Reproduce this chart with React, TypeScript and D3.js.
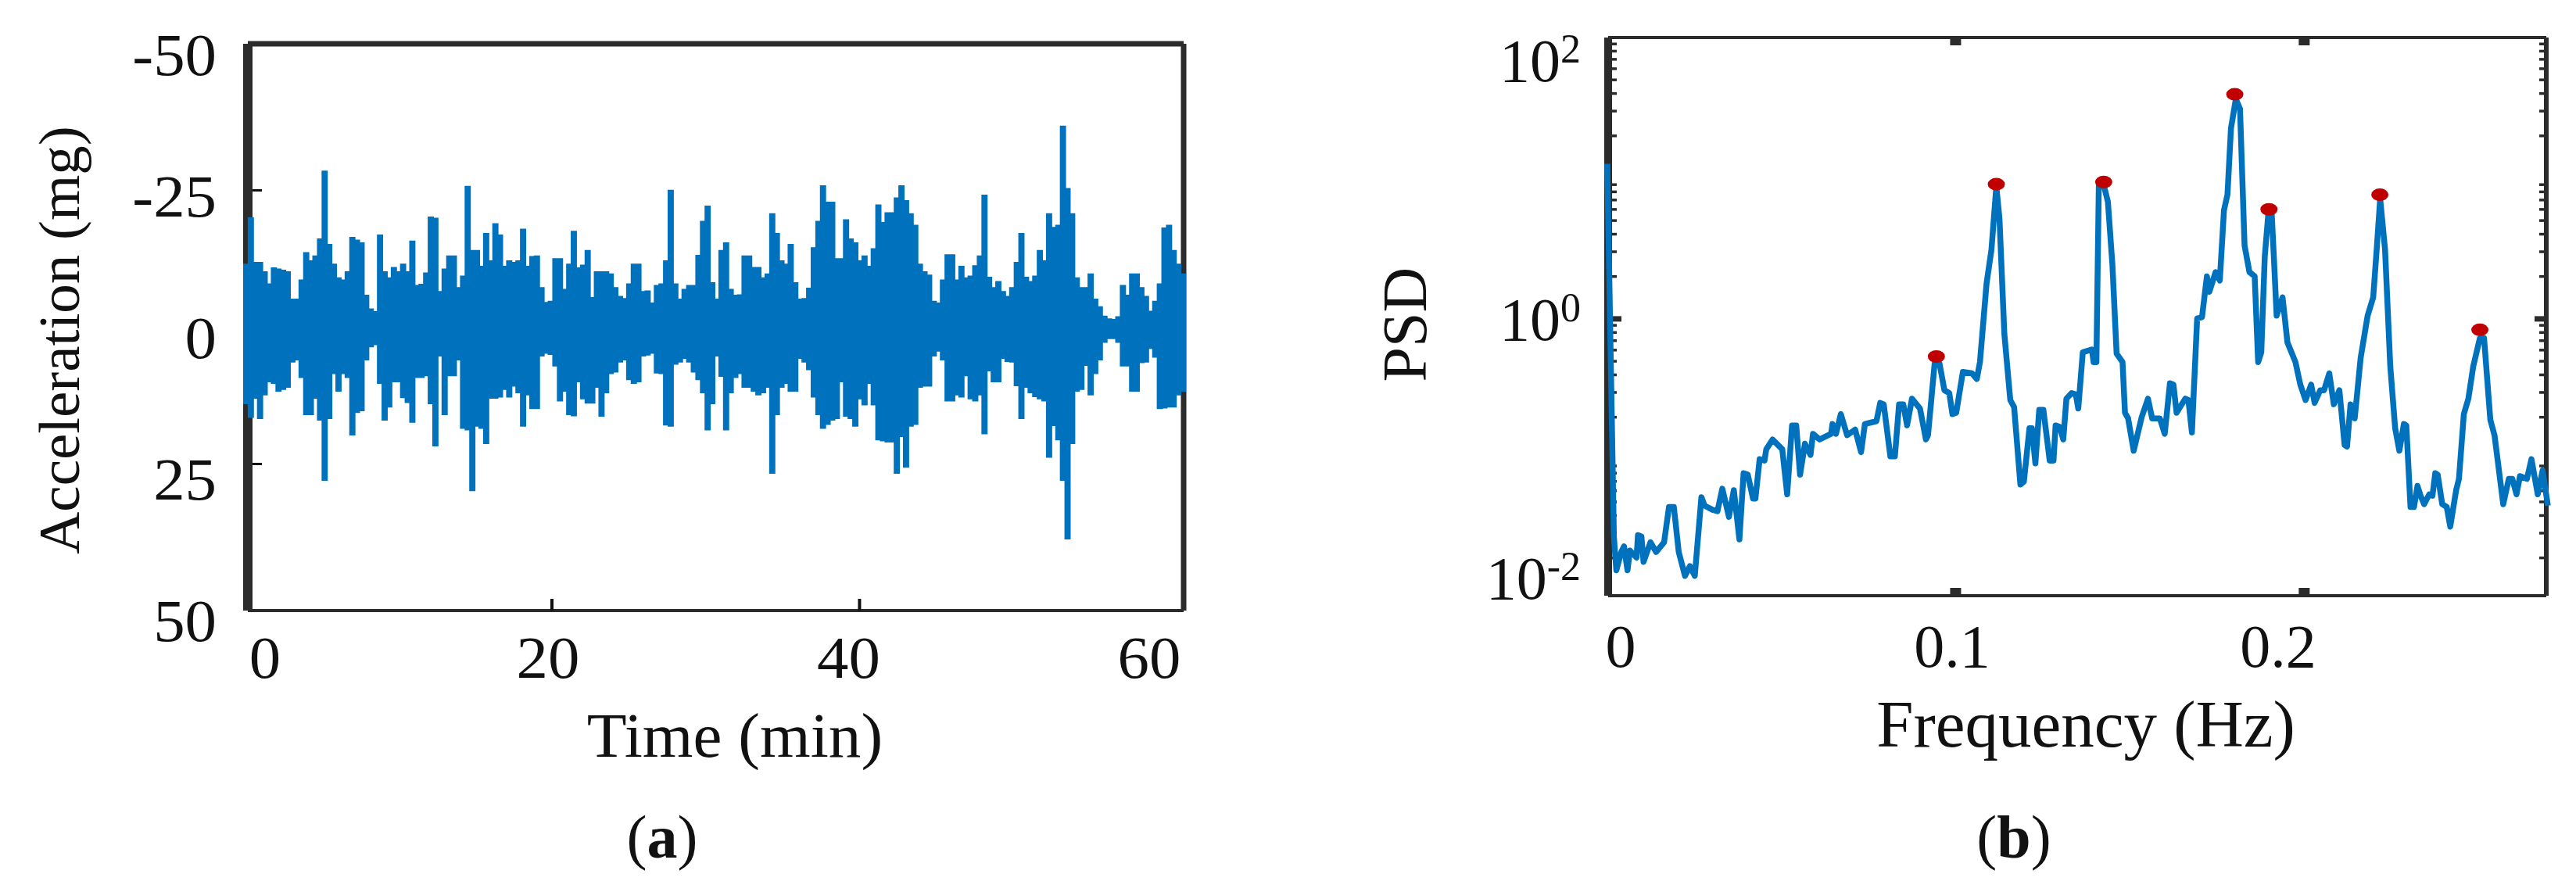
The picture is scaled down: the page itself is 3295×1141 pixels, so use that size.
import * as d3 from "d3";
import { useEffect, useRef } from "react";

// panel (a): envelope of the acceleration trace, one value per 0.3 min bin
const binMinutes = 0.3;
const accelUpper = [
  -11.4, -19.9, -11.7, -11.7, -10, -7.8, -10.7, -10.5, -10.3, -10, -5, -5, -8.5, -13.5, -12, -12.9, -16, -28.4, -15, -11.4,
  -8.9, -8.5, -10, -16.3, -15.8, -15.3, -5.7, -3.2, -2.7, -16.7, -10, -8.9, -10.8, -10, -11.4, -10, -15.6, -7.5, -7.7, -9.8,
  -20, -19.8, -6.4, -10.5, -12.9, -12.9, -7.1, -9.2, -25.6, -13.9, -13.9, -11, -17, -12, -18.8, -16.7, -11, -12, -11.7, -12,
  -17.8, -11, -12.8, -12.9, -7.1, -4.4, -4.6, -12.4, -12.4, -6.8, -11.4, -17.4, -10.7, -11.2, -13.9, -5.3, -10, -10, -10, -9.6,
  -7.1, -5.5, -5.1, -7.8, -11.4, -11.4, -6.4, -6.5, -4.3, -7.5, -7.8, -12, -24.9, -7.8, -5, -6.8,
  -7.5, -7.5, -13, -19.2, -22, -8, -5, -13.9, -15.3, -6.8, -5.7, -5.8, -12.9, -12.9, -10.8, -10.8, -8.9, -9.6, -20.6, -17,
  -12, -11.4, -15, -8, -5, -5.1, -7, -14.4, -19.2, -25.7, -22.7, -22.7, -12.4, -12.4, -19.5, -16, -15.3, -12, -12.9, -11,
  -14.2, -22.2, -19, -20.8, -20.8, -23.5, -25.7, -23, -20.6, -18.5, -11.4, -10, -9.4, -4.6, -4.3, -8.5, -13.1, -13.1, -8.5, -11,
  -8.9, -9.2, -11.1, -12.9, -24, -9, -7.1, -8.2, -6.4, -5.5, -7.1, -11.7, -17, -9, -8.2, -9.2, -13.9, -12, -20.6, -18.1,
  -18.5, -36.6, -25.2, -20.6, -8.9, -7.1, -7.1, -9.6, -5, -3.6, -1.9, -1.4, -1.3, -1.8, -7.5, -5.7, -9.6, -9.6, -7.1, -5.5,
  -2.8, -4.6, -7.8, -18, -18.5, -13.9, -11.4, -9.6, -9.6,
];
const accelLower = [
  14, 16.5, 13, 16.7, 12.4, 10, 10.3, 11.7, 11.4, 11, 6.4, 6, 9.2, 16, 16, 13, 17, 28, 16.7, 8.5,
  11.7, 8.5, 9.2, 19.7, 15.6, 15.3, 6, 3.6, 3.2, 10.3, 17, 14.6, 10, 10, 12.9, 13.8, 17.4, 9.2, 9.2, 8.9,
  14, 21.7, 5.3, 16, 8.9, 8.9, 6, 18.5, 18.8, 29.9, 18.1, 18.5, 21.3, 13, 13, 12.8, 11.4, 12.8, 10.8, 12,
  18.1, 12.4, 14.9, 14.9, 5.3, 4.8, 5, 7.1, 13.5, 11.7, 16, 16.2, 10, 13.1, 13.9, 13.9, 11, 16.3, 12, 8.5,
  8.2, 6.4, 6, 9.6, 10.3, 10, 5.3, 5.1, 4.8, 8.4, 8.5, 17.9, 18.1, 6.8, 6.4, 5.7,
  6.4, 8.2, 9.6, 12, 18.8, 14, 5.3, 9, 18.8, 12, 9.2, 8.5, 11, 11, 11.7, 12.4, 12, 11, 26.7, 16,
  11, 10.3, 11.7, 11.7, 5.7, 6.4, 7.8, 12.8, 16, 18.5, 17.8, 17, 16.7, 10, 16.3, 16.7, 18.1, 13.1, 14.2, 10.3,
  14.2, 20.6, 20.8, 21, 21, 26.7, 20, 25.6, 18.1, 17.8, 11, 10.8, 10.8, 5.3, 4.4, 6, 13.5, 13.5, 12.4, 12.8,
  8.9, 13.1, 13.5, 12.4, 19.5, 8, 10, 10, 5.7, 6.3, 6.4, 10.7, 16.7, 11, 12, 12.7, 13.1, 13.5, 23.8, 18,
  20.6, 28, 38.7, 21.3, 11.7, 11.4, 7, 12.4, 8.5, 6, 2.8, 2.1, 2.1, 2.8, 7.1, 7.1, 11.7, 11.7, 6.5, 6.4,
  3.9, 5.5, 14.9, 14.8, 14.6, 14.6, 12.4, 11.7, 11.7,
];

const timeTicks = [20, 40];
const timeLabels = [0, 20, 40, 60];
const accelTicks = [-25, 25];
const accelLabels = [-50, -25, 0, 25, 50];

// panel (b): PSD spectrum, read as log10(PSD) against frequency
const freqHz = [
  0.0002, 0.0021, 0.0028, 0.0042, 0.005, 0.006, 0.0067, 0.0086, 0.009, 0.01, 0.0106, 0.0126, 0.0142, 0.0165, 0.0179, 0.0193, 0.0207, 0.0225, 0.0239, 0.0253,
  0.0272, 0.0281, 0.0304, 0.0318, 0.0332, 0.0351, 0.0365, 0.0381, 0.0393, 0.0405, 0.042, 0.0427, 0.0439, 0.0453, 0.0458, 0.0476, 0.0504, 0.0518, 0.0532, 0.0544,
  0.0555, 0.0569, 0.0585, 0.0592, 0.0611, 0.0644, 0.0648, 0.0658, 0.0672, 0.069, 0.0713, 0.073, 0.0741, 0.0774, 0.0785, 0.0795, 0.0814, 0.0827, 0.0839, 0.0851,
  0.0862, 0.0876, 0.0899, 0.0916, 0.0922, 0.0941, 0.0955, 0.0969, 0.0983, 0.0992, 0.1003, 0.1022, 0.1048, 0.1062, 0.1071, 0.109, 0.1104, 0.1118, 0.1127, 0.1141,
  0.1158, 0.1169, 0.1187, 0.1197, 0.1213, 0.122, 0.123, 0.1241, 0.1253, 0.1271, 0.1282, 0.1288, 0.13, 0.131, 0.1319, 0.1334, 0.1346, 0.1353, 0.1366, 0.1392,
  0.1397, 0.1405, 0.1412, 0.1426, 0.1438, 0.1451, 0.1463, 0.148, 0.1487, 0.1496, 0.1512, 0.1535, 0.1553, 0.1565, 0.1587, 0.1601, 0.1616, 0.1626, 0.1635, 0.166,
  0.1669, 0.1679, 0.1694, 0.1708, 0.1722, 0.1729, 0.1747, 0.1759, 0.1771, 0.1781, 0.1791, 0.1805, 0.1817, 0.183, 0.1844, 0.1859, 0.1869, 0.1878, 0.1888, 0.1898,
  0.1908, 0.1914, 0.1922, 0.1939, 0.1953, 0.1976, 0.199, 0.2005, 0.2021, 0.2031, 0.2047, 0.2058, 0.2073, 0.2086, 0.2102, 0.2117, 0.2124, 0.2134, 0.2146, 0.2163,
  0.2183, 0.2199, 0.2209, 0.2219, 0.2233, 0.2248, 0.2262, 0.2274, 0.2287, 0.2294, 0.2306, 0.2316, 0.2326, 0.2335, 0.2345, 0.236, 0.2369, 0.2377, 0.2384, 0.2397,
  0.241, 0.242, 0.2437, 0.2445, 0.2459, 0.2472, 0.2486, 0.2505, 0.2517, 0.2535, 0.2547, 0.2572, 0.2588, 0.2598, 0.261, 0.262, 0.264, 0.2653, 0.2671, 0.2685,
  0.27,
];
const psdLog10 = [
  1.1, -1.55, -1.79, -1.66, -1.62, -1.79, -1.65, -1.7, -1.54, -1.55, -1.73, -1.59, -1.66, -1.59, -1.34, -1.34, -1.66, -1.83, -1.76, -1.83,
  -1.27, -1.33, -1.36, -1.37, -1.21, -1.41, -1.22, -1.57, -1.1, -1.11, -1.28, -1.28, -1, -1.01, -0.93, -0.86, -0.93, -1.25, -0.76, -0.76,
  -1.11, -0.89, -0.97, -0.82, -0.86, -0.82, -0.75, -0.82, -0.68, -0.83, -0.79, -0.95, -0.75, -0.73, -0.6, -0.61, -0.98, -0.98, -0.61, -0.61,
  -0.76, -0.57, -0.64, -0.86, -0.83, -0.32, -0.32, -0.51, -0.53, -0.68, -0.67, -0.38, -0.39, -0.43, -0.31, 0.25, 0.49, 0.94, 0.71, -0.11,
  -0.58, -0.63, -1.18, -1.16, -0.78, -0.78, -1.03, -0.65, -0.65, -1.01, -1.01, -0.76, -0.77, -0.86, -0.57, -0.53, -0.54, -0.64, -0.24, -0.22,
  -0.31, -0.31, 0.95, 0.95, 0.83, 0.38, -0.25, -0.31, -0.67, -0.71, -0.94, -0.7, -0.57, -0.71, -0.71, -0.82, -0.46, -0.47, -0.67, -0.57,
  -0.58, -0.81, 0, 0.01, 0.3, 0.19, 0.33, 0.27, 0.77, 0.88, 1.35, 1.56, 1.49, 0.52, 0.33, 0.3, -0.31, -0.24, 0.44, 0.74,
  0.74, 0.44, 0.02, 0.15, -0.17, -0.31, -0.47, -0.58, -0.47, -0.6, -0.51, -0.51, -0.39, -0.61, -0.51, -0.9, -0.91, -0.61, -0.71, -0.28,
  0.02, 0.15, 0.49, 0.85, 0.49, -0.34, -0.78, -0.94, -0.75, -0.76, -1.34, -1.34, -1.19, -1.26, -1.32, -1.25, -1.26, -1.1, -1.11, -1.32,
  -1.34, -1.48, -1.22, -1.14, -0.68, -0.57, -0.34, -0.14, -0.14, -0.72, -0.83, -1.32, -1.14, -1.14, -1.25, -1.12, -1.14, -1, -1.25, -1.08,
  -1.33,
];
const peakFreqHz = [0.0946, 0.1118, 0.1426, 0.1802, 0.19, 0.2218, 0.2505];
const peakLog10 = [-0.27, 0.955, 0.97, 1.594, 0.776, 0.88, -0.08];

const freqTicks = [0.1, 0.2];
const freqLabels = [0, 0.1, 0.2];
const psdExponents = [2, 0, -2];
const psdMinorMantissas = [2, 3, 4, 5, 6, 7, 8, 9];

const FONT = "'Liberation Serif', serif";
const BLUE = "#0072bd";
const RED = "#c00000";
const INK = "#2b2b2b";

export default function App() {
  const svgRef = useRef<SVGSVGElement | null>(null);

  useEffect(() => {
    const svg = d3.select(svgRef.current);
    svg.selectAll("*").remove();

    // ---- panel (a)
    const a = svg.append("g");
    const xA = d3.scaleLinear().domain([0, 61.3]).range([312, 1518]);
    const yA = d3.scaleLinear().domain([-52, 52]).range([54, 782]);

    const frame = (g: any, x0: number, x1: number, y0: number, y1: number, w: { l: number; r: number; t: number; b: number }) => {
      g.append("rect").attr("x", x0 - w.l / 2).attr("y", y0).attr("width", w.l).attr("height", y1 - y0).attr("fill", INK);
      g.append("rect").attr("x", x1 - w.r / 2).attr("y", y0).attr("width", w.r).attr("height", y1 - y0).attr("fill", INK);
      g.append("rect").attr("x", x0).attr("y", y0 - w.t / 2).attr("width", x1 - x0).attr("height", w.t).attr("fill", INK);
      g.append("rect").attr("x", x0).attr("y", y1 - w.b / 2).attr("width", x1 - x0).attr("height", w.b).attr("fill", INK);
    };
    frame(a, 317, 1514, 56, 781, { l: 12, r: 7, t: 7, b: 4 });

    const cleanAxis = (g: any, color: string, width: number) => {
      g.select(".domain").remove();
      g.selectAll("text").remove();
      g.selectAll("line").attr("stroke", color).attr("stroke-width", width);
    };

    a.append("g").attr("transform", "translate(0,781)")
      .call(d3.axisBottom(xA).tickValues(timeTicks).tickSize(-15))
      .call(cleanAxis, "#111", 4);
    a.append("g").attr("transform", "translate(323,0)")
      .call(d3.axisLeft(yA).tickValues(accelTicks).tickSize(-12))
      .call(cleanAxis, "#111", 3);

    // step envelope stands in for the dense trace
    const area = d3.area<number>()
      .curve(d3.curveStepAfter)
      .x((_, i) => xA(Math.min(i * binMinutes, 61.3)))
      .y0((_, i) => yA(accelLower[i]))
      .y1(d => yA(d));
    a.append("path").datum(accelUpper).attr("d", area).attr("fill", BLUE).attr("stroke", BLUE).attr("stroke-width", 2);

    const label = (g: any, text: string, x: number, y: number, size: number, anchor = "middle", sx = 1) => {
      return g.append("text")
        .attr("transform", `translate(${x},${y}) scale(${sx},1)`)
        .attr("text-anchor", anchor)
        .attr("font-family", FONT)
        .attr("font-size", size)
        .attr("fill", "#111")
        .text(text);
    };

    const accelLabelY = d3.scaleLinear().domain([-50, 50]).range([96, 820]);
    accelLabels.forEach(v => label(a, String(v), 277, accelLabelY(v), 77, "end", 1.05));
    const timeLabelX = d3.scaleLinear().domain([0, 20, 60]).range([339, 701, 1470]);
    timeLabels.forEach(v => label(a, String(v), timeLabelX(v), 867, 77, "middle", 1.05));

    label(a, "Time (min)", 940, 968, 80, "middle", 1.04);
    a.append("text")
      .attr("transform", "translate(101,435) rotate(-90)")
      .attr("text-anchor", "middle")
      .attr("font-family", FONT)
      .attr("font-size", 75)
      .attr("fill", "#111")
      .text("Acceleration (mg)");

    const caption = (letter: string, x: number) => {
      const t = svg.append("text")
        .attr("x", x).attr("y", 1097)
        .attr("text-anchor", "middle")
        .attr("font-family", FONT)
        .attr("font-size", 78)
        .attr("fill", "#111");
      t.append("tspan").text("(");
      t.append("tspan").attr("font-weight", "bold").text(letter);
      t.append("tspan").text(")");
    };
    caption("a", 847);

    // ---- panel (b)
    const b = svg.append("g");
    const xB = d3.scaleLinear().domain([0, 0.27]).range([2055, 3259]);
    const yB = d3.scaleLog().domain([0.0107, 100]).range([762, 47.5]);

    frame(b, 2057, 3257, 48, 762, { l: 10, r: 6, t: 4, b: 4 });

    const minors = d3.range(-2, 2).flatMap(e => psdMinorMantissas.map(m => m * 10 ** e)).filter(v => v > 0.0107);

    b.append("g").attr("transform", "translate(2062,0)")
      .call(d3.axisLeft(yB).tickValues(minors).tickSize(-6).tickFormat(() => ""))
      .call(cleanAxis, INK, 3.5);
    b.append("g").attr("transform", "translate(3254,0)")
      .call(d3.axisRight(yB).tickValues(minors).tickSize(-6).tickFormat(() => ""))
      .call(cleanAxis, INK, 3.5);
    b.append("g").attr("transform", "translate(2062,0)")
      .call(d3.axisLeft(yB).tickValues([1]).tickSize(-12).tickFormat(() => ""))
      .call(cleanAxis, INK, 7);
    b.append("g").attr("transform", "translate(3254,0)")
      .call(d3.axisRight(yB).tickValues([1]).tickSize(-12).tickFormat(() => ""))
      .call(cleanAxis, INK, 7);
    b.append("g").attr("transform", "translate(0,762)")
      .call(d3.axisBottom(xB).tickValues(freqTicks).tickSize(-10).tickFormat(() => ""))
      .call(cleanAxis, INK, 14);
    b.append("g").attr("transform", "translate(0,48)")
      .call(d3.axisTop(xB).tickValues(freqTicks).tickSize(-10).tickFormat(() => ""))
      .call(cleanAxis, INK, 14);

    const line = d3.line<number>()
      .x((_, i) => xB(freqHz[i]))
      .y(d => yB(10 ** d));
    b.append("path").datum(psdLog10).attr("d", line)
      .attr("fill", "none").attr("stroke", BLUE).attr("stroke-width", 7.5).attr("stroke-linejoin", "round");

    b.selectAll("ellipse").data(peakLog10).join("ellipse")
      .attr("cx", (_, i) => xB(peakFreqHz[i]))
      .attr("cy", d => yB(10 ** d))
      .attr("rx", 11)
      .attr("ry", 8)
      .attr("fill", RED);

    const psdLabelY = d3.scaleLinear().domain([2, -2]).range([104, 766]);
    psdExponents.forEach(e => {
      const t = b.append("text")
        .attr("x", 2022).attr("y", psdLabelY(e))
        .attr("text-anchor", "end")
        .attr("font-family", FONT)
        .attr("font-size", 78)
        .attr("fill", "#111");
      t.append("tspan").text("10");
      t.append("tspan").attr("dy", -24).attr("font-size", 52).text(String(e));
    });

    const freqLabelX = d3.scaleLinear().domain(freqLabels).range([2073, 2497, 2914]);
    freqLabels.forEach(v => label(b, String(v), freqLabelX(v), 853, 78));

    label(b, "Frequency (Hz)", 2668, 955, 85);
    b.append("text")
      .attr("transform", "translate(1824,415) rotate(-90)")
      .attr("text-anchor", "middle")
      .attr("font-family", FONT)
      .attr("font-size", 80)
      .attr("fill", "#111")
      .text("PSD");

    caption("b", 2576);
  }, []);

  return (
    <svg
      ref={svgRef}
      width={3295}
      height={1141}
      style={{ position: "absolute", left: 0, top: 0, display: "block", background: "#fff" }}
    />
  );
}
